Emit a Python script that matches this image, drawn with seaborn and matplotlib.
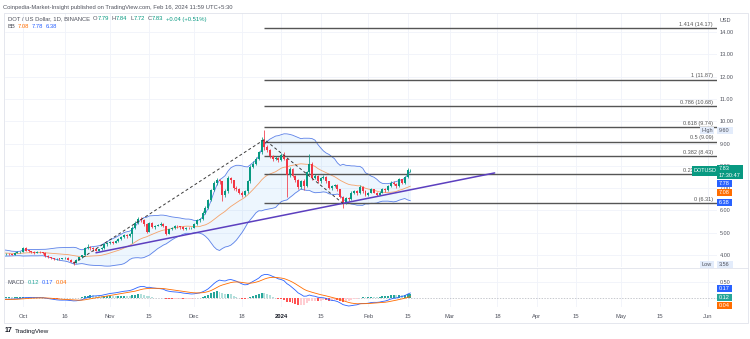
import numpy as np
import pandas as pd
import matplotlib
matplotlib.use("Agg")
import matplotlib.pyplot as plt
import matplotlib.dates as mdates
from matplotlib.patches import Rectangle
from matplotlib.lines import Line2D
from matplotlib.transforms import blended_transform_factory
import seaborn as sns

# ---------------- data ----------------
warmup_start = "2023-08-28"
warmup_close = [4.37, 4.55, 4.42, 4.27, 4.23, 4.25, 4.22, 4.19, 4.21, 4.20,
                4.22, 4.15, 4.15, 4.05, 3.93, 4.02, 4.05, 4.10, 4.12, 4.10,
                4.05, 4.09, 4.14, 4.10, 4.02, 4.05, 4.06]

chart_start = "2023-09-24"
close = [
    4.03, 4.05, 4.04, 4.02, 4.10, 4.12, 4.15,
    4.32, 4.20, 4.18, 4.15, 4.10, 4.14, 4.12,
    4.10, 3.95, 3.90, 3.85, 3.80, 3.83, 3.82,
    3.85, 3.88, 3.78, 3.70, 3.66, 3.78, 3.90,
    3.98, 4.32, 4.38, 4.30, 4.28, 4.20, 4.25,
    4.30, 4.48, 4.52, 4.60, 4.55, 4.62, 4.72,
    4.80, 4.88, 4.85, 4.95, 5.20, 5.45, 5.62,
    5.58, 5.40, 5.05, 5.45, 5.25, 5.30, 5.35,
    5.40, 5.30, 4.95, 5.15, 5.20, 5.30, 5.28,
    5.25, 5.15, 5.22, 5.20, 5.22, 5.40, 5.55,
    5.60, 5.90, 6.10, 6.45, 6.90, 7.25, 7.35,
    7.30, 6.70, 6.85, 7.45, 7.35, 7.00, 6.95,
    6.80, 6.70, 6.85, 7.30, 7.95, 8.10, 8.30,
    8.60, 9.15, 8.85, 8.70, 8.45, 8.30, 8.35,
    8.25, 8.50, 8.30, 7.60, 7.85, 7.55, 7.35,
    7.05, 7.30, 7.10, 7.70, 8.10, 7.45, 7.55,
    7.30, 7.45, 7.50, 7.30, 7.00, 7.10, 7.15,
    6.95, 6.60, 6.35, 6.55, 6.50, 6.80, 6.85,
    6.80, 7.05, 6.85, 6.70, 6.80, 6.95, 6.80,
    6.70, 6.80, 6.95, 6.90, 7.10, 7.25, 7.20,
    7.10, 7.40, 7.25, 7.50, 7.79, 7.83]
high = [
    4.08, 4.08, 4.08, 4.06, 4.13, 4.16, 4.18,
    4.36, 4.34, 4.24, 4.20, 4.17, 4.18, 4.16,
    4.14, 4.12, 3.98, 3.93, 3.88, 3.86, 3.86,
    3.88, 3.92, 3.90, 3.80, 3.74, 3.82, 3.93,
    4.02, 4.36, 4.48, 4.42, 4.34, 4.30, 4.28,
    4.34, 4.52, 4.60, 4.65, 4.64, 4.66, 4.76,
    4.84, 4.94, 4.93, 4.99, 5.28, 5.52, 5.70,
    5.72, 5.60, 5.42, 5.50, 5.48, 5.36, 5.40,
    5.46, 5.44, 5.32, 5.18, 5.26, 5.34, 5.34,
    5.30, 5.28, 5.26, 5.26, 5.26, 5.44, 5.60,
    5.66, 5.96, 6.20, 6.52, 6.98, 7.34, 7.45,
    7.42, 7.32, 6.95, 7.55, 7.52, 7.38, 7.08,
    7.00, 6.88, 6.92, 7.38, 8.02, 8.22, 8.38,
    8.66, 9.28, 9.60, 8.95, 8.74, 8.50, 8.42,
    8.40, 8.58, 8.60, 8.35, 7.94, 7.90, 7.60,
    7.40, 7.36, 7.40, 7.78, 8.55, 8.15, 7.62,
    7.58, 7.52, 7.58, 7.54, 7.34, 7.14, 7.20,
    7.18, 6.98, 6.65, 6.62, 6.62, 6.86, 6.92,
    6.90, 7.12, 7.10, 6.90, 6.84, 7.00, 6.98,
    6.84, 6.86, 7.00, 7.00, 7.14, 7.30, 7.32,
    7.24, 7.44, 7.42, 7.54, 7.90, 7.84]
low = [
    4.00, 4.00, 4.01, 3.99, 4.00, 4.08, 4.10,
    4.13, 4.16, 4.14, 4.10, 4.06, 4.08, 4.09,
    4.06, 3.92, 3.86, 3.82, 3.76, 3.78, 3.79,
    3.80, 3.83, 3.76, 3.68, 3.56, 3.64, 3.76,
    3.88, 3.96, 4.28, 4.22, 4.20, 4.16, 4.18,
    4.22, 4.28, 4.42, 4.48, 4.50, 4.52, 4.60,
    4.68, 4.76, 4.78, 4.80, 4.54, 5.15, 5.40,
    5.50, 5.30, 5.00, 5.02, 5.20, 5.18, 5.28,
    5.32, 5.24, 4.90, 4.92, 5.10, 5.16, 5.22,
    5.18, 5.10, 5.12, 5.16, 5.16, 5.20, 5.36,
    5.50, 5.56, 5.85, 6.05, 6.40, 6.85, 7.16,
    7.20, 6.40, 6.62, 6.80, 7.25, 6.92, 6.88,
    6.74, 6.62, 6.66, 6.80, 7.25, 7.88, 8.05,
    8.25, 8.55, 8.70, 8.60, 8.35, 8.22, 8.26,
    8.15, 8.22, 8.25, 6.60, 7.48, 7.48, 7.28,
    6.98, 6.95, 6.92, 7.05, 7.62, 7.38, 7.40,
    7.25, 7.22, 7.40, 7.25, 6.95, 6.90, 7.04,
    6.88, 6.55, 6.10, 6.30, 6.40, 6.45, 6.75,
    6.70, 6.75, 6.80, 6.66, 6.66, 6.78, 6.76,
    6.66, 6.68, 6.78, 6.84, 6.86, 7.05, 7.12,
    7.02, 7.06, 7.18, 7.20, 7.45, 7.72]

# Fibonacci trend-based extension anchors
fib_A = ("2023-10-19", 3.622)
fib_B = ("2023-12-26", 9.180)
fib_C = ("2024-01-23", 6.310)
fib_ratios = [0, 0.236, 0.382, 0.5, 0.618, 0.786, 1, 1.414]
# ascending support trend line
trend_pts = [("2023-10-27", 4.10), ("2024-03-17", 7.68)]

x_tick_dates = ["2023-10-01", "2023-10-16", "2023-11-01", "2023-11-15", "2023-12-01",
                "2023-12-18", "2024-01-01", "2024-01-15", "2024-02-01", "2024-02-15",
                "2024-03-01", "2024-03-18", "2024-04-01", "2024-04-15", "2024-05-01",
                "2024-05-15", "2024-06-01"]
x_tick_labels = ["Oct", "16", "Nov", "15", "Dec", "18", "2024", "15", "Feb", "15",
                 "Mar", "18", "Apr", "15", "May", "15", "Jun"]
price_ticks = [4, 5, 6, 7, 8, 9, 10, 11, 12, 13, 14]

title_text = "Coinpedia-Market-Insight published on TradingView.com, Feb 16, 2024 11:59 UTC+5:30"
ohlc_text = [("O", "7.79"), ("H", "7.84"), ("L", "7.72"), ("C", "7.83")]
change_text = "+0.04 (+0.51%)"
bb_vals = ["7.08", "7.78", "6.38"]
macd_vals = ["0.12", "0.17", "0.04"]
last_price = "7.83"
countdown = "17:30:47"
hi_label, lo_label = "9.60", "3.56"

# ---------------- style ----------------
sns.set_theme(style="white")
plt.rcParams["font.family"] = ["Liberation Sans", "DejaVu Sans"]

UP, DN = "#089981", "#f23645"
BLUE, ORANGE = "#2962ff", "#ff6d00"
TXT = "#50535e"
GRID = "#f0f3fa"

W, H = 750, 339
fig = plt.figure(figsize=(W / 100, H / 100), dpi=100)
fig.patch.set_facecolor("white")


def fx(p):
    return p / W


def fy(p):
    return 1 - p / H


ax = fig.add_axes([fx(5), fy(267), fx(717) - fx(5), fy(13) - fy(267)])
axm = fig.add_axes([fx(5), fy(307), fx(717) - fx(5), fy(268) - fy(307)], sharex=ax)

# ---------------- candles ----------------
dates = pd.date_range(chart_start, periods=len(close), freq="D")
xs = mdates.date2num(dates)
c = np.array(close)
o = np.array([warmup_close[-1]] + close[:-1])
h = np.array(high)
l = np.array(low)
up = c >= o
cols = np.where(up, UP, DN)
blo = np.minimum(o, c)
bhi = np.maximum(o, c)
ax.vlines(xs, np.minimum(l, blo), np.maximum(h, bhi), colors=cols, lw=0.55, zorder=4)
ax.bar(xs, np.maximum(bhi - blo, 0.025), bottom=blo, width=0.7, color=cols, lw=0, zorder=5)

# ---------------- Bollinger Bands ----------------
all_close = pd.Series(warmup_close + close,
                      index=pd.date_range(warmup_start, periods=len(warmup_close) + len(close), freq="D"))
basis = all_close.rolling(20).mean()
sd = all_close.rolling(20).std(ddof=0)
upper = basis + 2 * sd
lower = basis - 2 * sd
vis = all_close.index >= pd.Timestamp(chart_start)
ax.fill_between(xs, lower[vis].values, upper[vis].values, color="#2196f3", alpha=0.08, lw=0, zorder=1)
sns.lineplot(x=xs, y=upper[vis].values, ax=ax, color="#5b80e8", lw=0.6, estimator=None, zorder=2)
sns.lineplot(x=xs, y=lower[vis].values, ax=ax, color="#5b80e8", lw=0.6, estimator=None, zorder=2)
sns.lineplot(x=xs, y=basis[vis].values, ax=ax, color="#f5a26a", lw=0.6, estimator=None, zorder=2)

# ---------------- trend line & fib ----------------
tx = [mdates.date2num(pd.Timestamp(d)) for d, _ in trend_pts]
ty = [v for _, v in trend_pts]
sns.lineplot(x=tx, y=ty, ax=ax, color="#5c3fbf", lw=1.1, estimator=None, zorder=6)

ax_d = [mdates.date2num(pd.Timestamp(p[0])) for p in (fib_A, fib_B, fib_C)]
ax_v = [p[1] for p in (fib_A, fib_B, fib_C)]
ax.plot(ax_d, ax_v, color="#3a3a3a", lw=0.7, ls=(0, (3, 2.5)), zorder=6)

x0 = mdates.date2num(pd.Timestamp("2023-10-01")) - 6.41
x1 = mdates.date2num(pd.Timestamp("2024-06-01")) + 3.21
rng = fib_B[1] - fib_A[1]
fib_vals = [fib_C[1] + r * rng for r in fib_ratios]
ax.hlines(fib_vals, ax_d[1], x1, colors="#555555", lw=1.0, zorder=3)
bt = blended_transform_factory(ax.transAxes, ax.transData)
for r, v in zip(fib_ratios, fib_vals):
    ax.text((713 - 5) / 712, v + 0.06, f"{r:g} ({v:.2f})", transform=bt, ha="right", va="bottom",
            fontsize=4, color="#555555", zorder=7)

# ---------------- axes styling ----------------
ax.set_xlim(x0, x1)
ax.set_ylim(3.462, 14.852)
tick_pos = [mdates.date2num(pd.Timestamp(d)) for d in x_tick_dates]
for a in (ax, axm):
    a.set_facecolor("none")
    for s in a.spines.values():
        s.set_visible(False)
    a.set_xticks(tick_pos)
    a.grid(True, color=GRID, lw=0.6)
    a.set_axisbelow(True)
ax.yaxis.tick_right()
ax.set_yticks(price_ticks)
ax.set_yticklabels([f"{v:.2f}" for v in price_ticks])
ax.tick_params(axis="y", length=0, labelsize=4, labelcolor=TXT, pad=2)
ax.tick_params(axis="x", length=0, labelbottom=False)
ax.set_xlabel("")
ax.set_ylabel("")

# ---------------- MACD ----------------
ema12 = all_close.ewm(span=12, adjust=False).mean()
ema26 = all_close.ewm(span=26, adjust=False).mean()
macd = ema12 - ema26
sig = macd.ewm(span=9, adjust=False).mean()
hist = (macd - sig)
hv = hist.values
prev = np.r_[hv[0], hv[:-1]]
hcol = np.where(hv >= 0, np.where(hv >= prev, "#26a69a", "#b2dfdb"),
                np.where(hv < prev, "#ff5252", "#ffcdd2"))
axm.bar(xs, hv[vis], width=0.7, color=hcol[vis], lw=0, zorder=2)
sns.lineplot(x=xs, y=macd[vis].values, ax=axm, color=BLUE, lw=0.6, estimator=None, zorder=3)
sns.lineplot(x=xs, y=sig[vis].values, ax=axm, color=ORANGE, lw=0.6, estimator=None, zorder=3)
axm.axhline(0, color="#b0b3bb", lw=0.5, ls=(0, (2, 2)), zorder=1)
axm.set_ylim(-0.3, 0.94)
axm.yaxis.tick_right()
axm.set_yticks([0.5])
axm.set_yticklabels(["0.50"])
axm.tick_params(axis="y", length=0, labelsize=4, labelcolor=TXT, pad=2)
axm.tick_params(axis="x", length=0, labelsize=4.2, labelcolor=TXT, pad=5)
axm.set_xticklabels(x_tick_labels)
for t in axm.get_xticklabels():
    if t.get_text() == "2024":
        t.set_fontweight("bold")
        t.set_color("#131722")
axm.set_xlabel("")
axm.set_ylabel("")
axm.set_xlim(x0, x1)

# ---------------- frame ----------------
fig.add_artist(Rectangle((fx(4), fy(323)), fx(748) - fx(4), fy(13) - fy(323), transform=fig.transFigure,
                         fill=False, ec="#e0e3eb", lw=0.6))
fig.add_artist(Line2D([fx(4), fx(748)], [fy(267.5)] * 2, transform=fig.transFigure, color="#e0e3eb", lw=0.6))

# ---------------- header texts ----------------
renderer = fig.canvas.get_renderer()


def seq(x, y, pieces, fs=4.2):
    for s, col, gap in pieces:
        t = fig.text(fx(x), fy(y), s, fontsize=fs, color=col, va="center", ha="left")
        x += t.get_window_extent(renderer=renderer).width + gap


fig.text(fx(3), fy(7), title_text, fontsize=4.2, color=TXT, va="center", ha="left")
pieces = [("DOT / US Dollar, 1D, BINANCE", TXT, 3)]
for k, v in ohlc_text:
    pieces += [(k, TXT, 0.3), (v, UP, 2.5)]
pieces += [(change_text, UP, 0)]
seq(8, 19, pieces)
seq(8, 27, [("BB", TXT, 2.5), (bb_vals[0], ORANGE, 2.5), (bb_vals[1], BLUE, 2.5), (bb_vals[2], BLUE, 0)])
seq(8, 283, [("MACD", TXT, 2.5), (macd_vals[0], "#26a69a", 2.5), (macd_vals[1], BLUE, 2.5),
             (macd_vals[2], ORANGE, 0)])
fig.text(fx(720), fy(20), "USD", fontsize=4, color=TXT, va="center", ha="left")


def box(x0p, x1p, y0p, y1p, fc, lines, tc="white", fs=4, ha="left"):
    fig.add_artist(Rectangle((fx(x0p), fy(y1p)), fx(x1p) - fx(x0p), fy(y0p) - fy(y1p),
                             transform=fig.transFigure, fc=fc, ec="none", zorder=10))
    n = len(lines)
    for i, s in enumerate(lines):
        yy = y0p + (y1p - y0p) * (i + 0.5) / n
        fig.text(fx(x0p + 2), fy(yy), s, fontsize=fs, color=tc, va="center", ha="left", zorder=11)


box(692, 717, 166, 176, UP, ["DOTUSD"])
box(717, 743, 165, 179, UP, [last_price, countdown])
box(717, 732, 180, 187, BLUE, [bb_vals[1]])
box(717, 732, 189, 196, ORANGE, [bb_vals[0]])
box(717, 732, 199, 206, BLUE, [bb_vals[2]])
box(700, 714, 127, 134, "#e3ecfb", ["High"], tc=TXT)
box(717, 733, 127, 134, "#e3ecfb", [hi_label], tc=TXT)
box(700, 714, 261, 268, "#e3ecfb", ["Low"], tc=TXT)
box(717, 733, 261, 268, "#e3ecfb", [lo_label], tc=TXT)
box(717, 732, 285, 292, BLUE, [macd_vals[1]])
box(717, 732, 294, 301, "#26a69a", [macd_vals[0]])
box(717, 732, 302, 309, ORANGE, [macd_vals[2]])

# TradingView logo
fig.text(fx(5), fy(331), "17", fontsize=5, fontweight="bold", color="#131722", va="center", ha="left")
fig.text(fx(15), fy(331), "TradingView", fontsize=4.5, color="#131722", va="center", ha="left")

fig.savefig("out.png", dpi=100, facecolor="white")
